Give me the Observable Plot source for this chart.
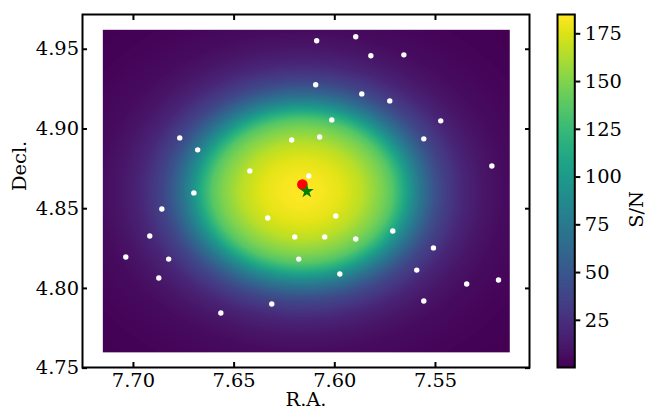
<!DOCTYPE html>
<html><head><meta charset="utf-8">
<script src="https://cdn.jsdelivr.net/npm/d3@7"></script>
<script src="https://cdn.jsdelivr.net/npm/@observablehq/plot@0.6"></script>
<style>
body{margin:0;background:#fff;}
#wrap{position:relative;width:659px;height:420px;}
#wrap svg{position:absolute;left:0;top:0;}
</style></head><body><div id="wrap"></div>
<script>
// Field sources (white dots)
const raDots = [7.6090,7.5896,7.5821,7.5657,7.6095,7.5727,7.5866,7.6015,7.5474,7.6214,7.6075,7.5558,7.6770,7.6681,7.6422,7.6129,7.5220,7.6700,7.6859,7.6333,7.5995,7.6199,7.6050,7.5896,7.5712,7.6919,7.7038,7.6825,7.6179,7.5510,7.6874,7.5975,7.5593,7.5345,7.5187,7.6566,7.6313,7.5558];
const decDots = [4.9553,4.9578,4.9459,4.9465,4.9277,4.9176,4.9220,4.9057,4.9051,4.8931,4.8950,4.8938,4.8944,4.8869,4.8737,4.8705,4.8768,4.8599,4.8498,4.8442,4.8454,4.8323,4.8323,4.8310,4.8360,4.8329,4.8197,4.8184,4.8184,4.8254,4.8065,4.8090,4.8115,4.8028,4.8053,4.7846,4.7902,4.7921];
// Red point and green star
const raRed = [7.6161], decRed = [4.8651];
const raStar = [7.6139], decStar = [4.8609];
// S/N map: centre, extent, radial profile
const mapCenterRA = 7.6162, mapCenterDec = 4.8608;
const mapRA = [7.7152, 7.5131];
const mapDec = [4.7599, 4.9622];
const profileR  = [0,   0.01, 0.02, 0.03, 0.04, 0.045, 0.05, 0.055, 0.06, 0.065, 0.07, 0.08, 0.09, 0.10, 0.12, 0.145];
const profileSN = [185, 183,  177,  166,  148,  136,   115,  90,    68,   50,    37,   20,   11,   6,    2,    0.3];
const snDomain = [0.3, 185.1];
// Axes
const xDomain = [7.7253, 7.5033];
const yDomain = [4.7504, 4.9718];
const xTicks = [7.70, 7.65, 7.60, 7.55];
const yTicks = [4.75, 4.80, 4.85, 4.90, 4.95];
const cTicks = [25, 50, 75, 100, 125, 150, 175];

const dots = raDots.map((ra, i) => ({ra, dec: decDots[i]}));
const red = raRed.map((ra, i) => ({ra, dec: decRed[i]}));
const star = raStar.map((ra, i) => ({ra, dec: decStar[i]}));
const snAt = d3.scaleLinear(profileR, profileSN).clamp(true);

const font = "DejaVu Serif";
const fs = "19.4px";
const W = 659, H = 420;
const mTop = 14, mBottom = 53, mLeft = 82, mRight = 130;
const tickOnly = {tickSize: -5, strokeWidth: 2, tickFormat: () => "", label: null};

const main = Plot.plot({
  width: W, height: H,
  marginLeft: mLeft, marginRight: mRight, marginTop: mTop, marginBottom: mBottom,
  style: {fontFamily: font, fontSize: fs, background: "transparent", color: "black", overflow: "visible"},
  x: {domain: xDomain, axis: null},
  y: {domain: yDomain, axis: null},
  color: {type: "linear", scheme: "viridis", domain: snDomain},
  marks: [
    Plot.raster({x1: mapRA[0], x2: mapRA[1], y1: mapDec[0], y2: mapDec[1],
      fill: (x, y) => snAt(Math.hypot(x - mapCenterRA, y - mapCenterDec))}),
    Plot.dot(dots, {x: "ra", y: "dec", r: 2.7, fill: "white"}),
    Plot.dot(red, {x: "ra", y: "dec", r: 5.3, fill: "red"}),
    Plot.dot(star, {x: "ra", y: "dec", r: 4.4, symbol: "star", fill: "green"}),
    Plot.frame({stroke: "black", strokeWidth: 2}),
    Plot.axisX(xTicks, {anchor: "bottom", ...tickOnly}),
    Plot.axisX(xTicks, {anchor: "top", ...tickOnly}),
    Plot.axisY(yTicks, {anchor: "left", ...tickOnly}),
    Plot.axisY(yTicks, {anchor: "right", ...tickOnly}),
    Plot.axisX(xTicks, {anchor: "bottom", tickSize: 0, tickPadding: 5.3, tickFormat: d3.format(".2f"), label: null, fill: "black"}),
    Plot.axisY(yTicks, {anchor: "left", tickSize: 0, tickPadding: 3.5, tickFormat: d3.format(".2f"), label: null, fill: "black"}),
    Plot.text(["R.A."], {frameAnchor: "bottom", dy: 38, text: d => d, fontSize: 19.4, fill: "black"}),
    Plot.text(["Decl."], {frameAnchor: "left", dx: -62.7, rotate: -90, text: d => d, fontSize: 19.4, fill: "black"})
  ]
});

const cbar = Plot.plot({
  width: W, height: H,
  marginLeft: 557, marginRight: W - 574.3, marginTop: mTop, marginBottom: mBottom,
  style: {fontFamily: font, fontSize: fs, background: "transparent", color: "black", overflow: "visible"},
  x: {domain: [0, 1], axis: null},
  y: {domain: snDomain, axis: null},
  color: {type: "linear", scheme: "viridis", domain: snDomain},
  marks: [
    Plot.raster({x1: 0, x2: 1, y1: snDomain[0], y2: snDomain[1], fill: (x, y) => y}),
    Plot.frame({stroke: "black", strokeWidth: 2}),
    Plot.axisY(cTicks, {anchor: "right", tickSize: 5, strokeWidth: 2, tickPadding: 5, label: null, fill: "black"}),
    Plot.text(["S/N"], {frameAnchor: "right", dx: 61.7, rotate: -90, text: d => d, fontSize: 19.4, fill: "black"})
  ]
});

const wrap = document.getElementById("wrap");
wrap.append(main, cbar);
</script></body></html>
